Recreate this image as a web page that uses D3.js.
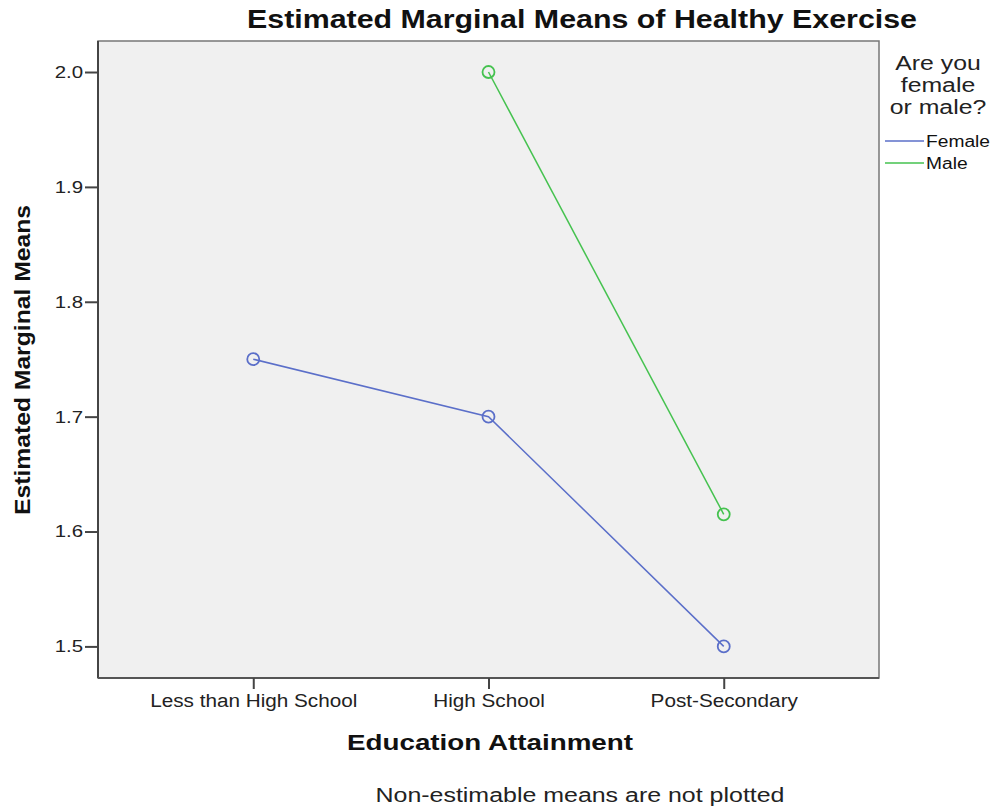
<!DOCTYPE html>
<html><head><meta charset="utf-8">
<script src="https://cdn.jsdelivr.net/npm/d3@7"></script>
<style>body{margin:0;background:#fff;} text{font-family:"Liberation Sans",Arial,sans-serif;}</style>
</head><body>
<svg id="c" width="992" height="807"></svg>
<script>
const categories = ["Less than High School", "High School", "Post-Secondary"];
const femaleValues = [1.75, 1.70, 1.50];
const maleValues = [null, 2.00, 1.615];
const yTicks = [1.5, 1.6, 1.7, 1.8, 1.9, 2.0];
const seriesNames = ["Female", "Male"];
const legendTitle = ["Are you", "female", "or male?"];
const colors = ["#5b6fc9", "#45c24f"];

const svg = d3.select("#c");
const L = 98, R = 879, T = 41, B = 678;
const x = d3.scalePoint().domain(categories).range([L, R]).padding(0.66);
const y = d3.scaleLinear().domain([1.4725, 2.027]).range([B, T]);

// stretch text horizontally by a factor (reference font renders wider)
function widen(sel, f) {
  sel.each(function () {
    const w = this.getComputedTextLength();
    d3.select(this).attr("textLength", w * f).attr("lengthAdjust", "spacingAndGlyphs");
  });
}

svg.append("rect").attr("x", L).attr("y", T).attr("width", R - L).attr("height", B - T)
  .attr("fill", "#f0f0f0").attr("stroke", "#777").attr("stroke-width", 1.5);
svg.append("line").attr("x1", L).attr("x2", L).attr("y1", T).attr("y2", B).attr("stroke", "#444").attr("stroke-width", 2);
svg.append("line").attr("x1", L).attr("x2", R).attr("y1", B).attr("y2", B).attr("stroke", "#555").attr("stroke-width", 2);

const yAxis = svg.append("g").attr("transform", `translate(${L},0)`)
  .call(d3.axisLeft(y).tickValues(yTicks).tickFormat(d3.format(".1f")).tickSize(13).tickPadding(2));
yAxis.select(".domain").remove();
yAxis.selectAll("line").attr("stroke", "#444").attr("stroke-width", 2);
yAxis.selectAll("text").attr("font-size", 17).attr("fill", "#222").style("font-family", "Liberation Sans, Arial, sans-serif")
  .call(widen, 1.2);

const xAxis = svg.append("g").attr("transform", `translate(0,${B})`)
  .call(d3.axisBottom(x).tickSize(11).tickPadding(5));
xAxis.select(".domain").remove();
xAxis.selectAll("line").attr("stroke", "#444").attr("stroke-width", 2);
xAxis.selectAll("text").attr("font-size", 18).attr("fill", "#222").style("font-family", "Liberation Sans, Arial, sans-serif")
  .call(widen, 1.15);

const series = [femaleValues, maleValues];
series.forEach((vals, i) => {
  const pts = categories.map((c, j) => ({c, v: vals[j]})).filter(d => d.v != null);
  svg.append("path").datum(pts)
    .attr("d", d3.line().x(d => x(d.c)).y(d => y(d.v)))
    .attr("fill", "none").attr("stroke", colors[i]).attr("stroke-width", 1.5);
  svg.selectAll(null).data(pts).enter().append("circle")
    .attr("cx", d => x(d.c)).attr("cy", d => y(d.v)).attr("r", 6)
    .attr("fill", "none").attr("stroke", colors[i]).attr("stroke-width", 1.8);
});

svg.append("text").attr("x", 582).attr("y", 28).attr("text-anchor", "middle")
  .attr("font-size", 25).attr("font-weight", "bold").attr("fill", "#111")
  .text("Estimated Marginal Means of Healthy Exercise").attr("textLength", 670).attr("lengthAdjust", "spacingAndGlyphs");
svg.append("text").attr("x", 490).attr("y", 750).attr("text-anchor", "middle")
  .attr("font-size", 22).attr("font-weight", "bold").attr("fill", "#111")
  .text("Education Attainment").attr("textLength", 286).attr("lengthAdjust", "spacingAndGlyphs");
svg.append("text").attr("transform", "translate(30,360) rotate(-90)").attr("text-anchor", "middle")
  .attr("font-size", 22).attr("font-weight", "bold").attr("fill", "#111")
  .text("Estimated Marginal Means").attr("textLength", 310).attr("lengthAdjust", "spacingAndGlyphs");
svg.append("text").attr("x", 580).attr("y", 802).attr("text-anchor", "middle")
  .attr("font-size", 20).attr("fill", "#222")
  .text("Non-estimable means are not plotted").attr("textLength", 409).attr("lengthAdjust", "spacingAndGlyphs");

svg.selectAll(null).data(legendTitle).enter().append("text")
  .attr("x", 938).attr("y", (d, i) => 70 + i * 22).attr("text-anchor", "middle")
  .attr("font-size", 20).attr("fill", "#222").text(d => d)
  .call(widen, 1.24);
seriesNames.forEach((n, i) => {
  const yy = 141 + i * 22;
  svg.append("line").attr("x1", 885).attr("x2", 924).attr("y1", yy).attr("y2", yy)
    .attr("stroke", colors[i]).attr("stroke-width", 1.5);
  svg.append("text").attr("x", 926).attr("y", yy + 6).attr("font-size", 16).attr("fill", "#111").text(n)
    .call(widen, 1.2);
});
</script>
</body></html>
